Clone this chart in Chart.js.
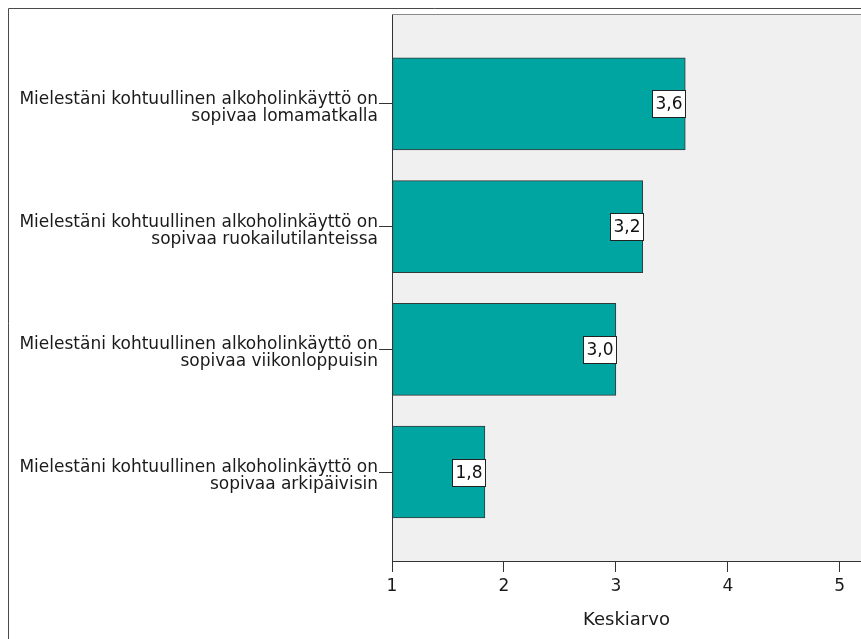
<!DOCTYPE html>
<html>
<head>
<meta charset="utf-8">
<title>Keskiarvo</title>
<script src="https://cdn.jsdelivr.net/npm/chart.js@4"></script>
<style>
  html, body { margin: 0; padding: 0; background: #fff; }
  #wrap { width: 861px; height: 639px; position: relative; }
</style>
</head>
<body>
<div id="wrap"><canvas id="meanChart"></canvas></div>
<script>
// -----------------------------
// Data
// -----------------------------
const categories = [
  ["Mielestäni kohtuullinen alkoholinkäyttö on", "sopivaa lomamatkalla"],
  ["Mielestäni kohtuullinen alkoholinkäyttö on", "sopivaa ruokailutilanteissa"],
  ["Mielestäni kohtuullinen alkoholinkäyttö on", "sopivaa viikonloppuisin"],
  ["Mielestäni kohtuullinen alkoholinkäyttö on", "sopivaa arkipäivisin"]
];
const means = [3.62, 3.24, 3.0, 1.83];
const meanLabels = ["3,6", "3,2", "3,0", "1,8"];
const xTicks = [1, 2, 3, 4, 5];
const axisTitle = "Keskiarvo";

const FONT = "DejaVu Sans";

// -----------------------------
// Plugin: gray plot area + frame
// -----------------------------
const plotBackground = {
  id: "plotBackground",
  beforeDraw(chart) {
    const { ctx, chartArea: a } = chart;
    ctx.save();
    ctx.fillStyle = "#f0f0f0";
    ctx.fillRect(a.left, a.top, a.right - a.left, a.bottom - a.top);
    ctx.restore();
  },
  afterDraw(chart) {
    const { ctx, chartArea: a } = chart;
    ctx.save();
    ctx.lineWidth = 1;
    // plot top border
    ctx.strokeStyle = "#8a8a8a";
    ctx.beginPath();
    ctx.moveTo(a.left, a.top + 0.5);
    ctx.lineTo(a.right, a.top + 0.5);
    ctx.stroke();
    // outer frame
    ctx.strokeStyle = "#4a4a4a";
    ctx.beginPath();
    ctx.moveTo(8.5, chart.height);
    ctx.lineTo(8.5, 8.5);
    ctx.lineTo(chart.width, 8.5);
    ctx.stroke();
    ctx.restore();
  }
};

// -----------------------------
// Plugin: boxed value labels at bar ends
// -----------------------------
const valueBoxes = {
  id: "valueBoxes",
  afterDatasetsDraw(chart) {
    const { ctx } = chart;
    const meta = chart.getDatasetMeta(0);
    ctx.save();
    ctx.font = "17px '" + FONT + "'";
    ctx.textAlign = "center";
    ctx.textBaseline = "middle";
    meta.data.forEach((bar, i) => {
      const { x, y } = bar.getProps(["x", "y"], true);
      const text = meanLabels[i];
      const w = Math.round(ctx.measureText(text).width) + 6;
      const h = 27;
      const left = Math.round(x) - w + 0.5;
      const top = Math.round(y - h / 2) + 0.5;
      ctx.fillStyle = "#ffffff";
      ctx.fillRect(left, top, w, h);
      ctx.strokeStyle = "#222";
      ctx.lineWidth = 1;
      ctx.strokeRect(left, top, w, h);
      ctx.fillStyle = "#111";
      ctx.fillText(text, left + w / 2, top + h / 2 + 1);
    });
    ctx.restore();
  }
};

// -----------------------------
// Render
// -----------------------------
function renderMeanChart() {
  const points = means.map((v, i) => ({ x: v, y: i }));

  new Chart(document.getElementById("meanChart"), {
    type: "bar",
    data: {
      datasets: [{
        data: points,
        base: 1,
        backgroundColor: "#00a4a0",
        borderColor: "#2f3a3a",
        borderWidth: 1,
        borderSkipped: false,
        barThickness: 92
      }]
    },
    options: {
      indexAxis: "y",
      responsive: true,
      maintainAspectRatio: false,
      animation: false,
      layout: { padding: { top: 14, left: 0, right: 0, bottom: 0 } },
      plugins: {
        legend: { display: false },
        tooltip: { enabled: false }
      },
      scales: {
        x: {
          type: "linear",
          position: "bottom",
          min: 1,
          max: 5.19,
          grid: { drawOnChartArea: false, drawTicks: true, tickLength: 11, color: "#333", lineWidth: 1 },
          border: { display: true, color: "#333", width: 1 },
          ticks: {
            stepSize: 1,
            includeBounds: false,
            padding: 4,
            color: "#1a1a1a",
            font: { family: FONT, size: 17 },
            callback: v => (xTicks.includes(v) ? String(v) : "")
          },
          title: {
            display: true,
            text: axisTitle,
            color: "#1a1a1a",
            font: { family: FONT, size: 18 },
            padding: { top: 0, bottom: 8 }
          },
          afterFit(scale) {
            scale.height = 78;
            scale.paddingLeft = 0;
            scale.paddingRight = 0;
          }
        },
        y: {
          type: "linear",
          reverse: true,
          offset: false,
          min: -0.733,
          max: 3.725,
          grid: { offset: false, drawOnChartArea: false, drawTicks: true, tickLength: 13, color: "#333", lineWidth: 1 },
          border: { display: true, color: "#333", width: 1 },
          ticks: {
            stepSize: 1,
            includeBounds: false,
            autoSkip: false,
            padding: 1,
            labelOffset: 4,
            color: "#1a1a1a",
            font: { family: FONT, size: 17, lineHeight: 1.0 },
            callback: v => categories[v] || ""
          },
          afterFit(scale) {
            scale.width = 392;
            scale.paddingTop = 0;
            scale.paddingBottom = 0;
          }
        }
      }
    },
    plugins: [plotBackground, valueBoxes]
  });
}

document.addEventListener("DOMContentLoaded", renderMeanChart);
</script>
</body>
</html>
